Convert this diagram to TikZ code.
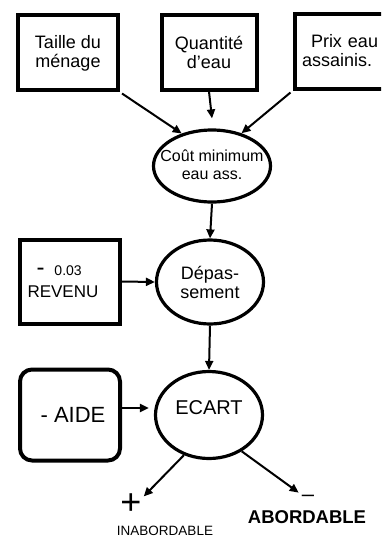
\documentclass[tikz,border=0pt]{standalone}
\usepackage{fontspec}
\setmainfont{Liberation Sans}
\usetikzlibrary{arrows.meta,shapes.geometric}
\begin{document}
\begin{tikzpicture}[x=1pt,y=-1pt,
  every node/.style={font=\fontsize{18}{19}\selectfont, inner sep=0pt},
  boxnode/.style={draw, line width=4pt, rectangle, align=center},
  ellnode/.style={draw, line width=3.2pt, ellipse},
  txt/.style={align=center, font=\fontsize{18}{19}\selectfont},
  arr/.style={line width=2pt, -{Triangle[length=9pt,width=8pt]}}]
\clip (0,0) rectangle (381,539);
% top boxes
\node[boxnode, minimum width=100, minimum height=75] (taille) at (68,52) {\rule{0pt}{15pt}Taille du\\ménage};
\node[boxnode, minimum width=95, minimum height=75] (quant) at (209,52) {\rule{0pt}{15pt}Quantité\\d’eau};
\node[boxnode, minimum width=101, minimum height=75, text width=86, align=left] (prix) at (345,51) {\rule{0pt}{12pt}\hspace*{9pt}Prix eau\\assainis.};
% ellipse 1
\node[ellnode, minimum width=117, minimum height=72,
  label={[txt, font=\fontsize{16}{18}\selectfont, yshift=1pt]center:Coût minimum\\eau ass.}] (cout) at (212,166) {};
% row 2
\node[boxnode, minimum width=100, minimum height=84, text width=84, align=left] (rev) at (69.5,281.5) {\hspace*{9pt}{\fontsize{24}{20}\selectfont -}\hspace{10pt}{\fontsize{14}{15}\selectfont 0.03}\\[3pt]{\fontsize{17}{19}\selectfont REVENU}\\[8pt]};
\node[ellnode, minimum width=107, minimum height=84,
  label={[txt]center:Dépas-\\sement}] (dep) at (210,282) {};
% row 3
\node[draw, line width=4pt, rectangle, rounded corners=12pt, minimum width=100, minimum height=91, font=\fontsize{22}{24}\selectfont] (aide) at (70,415) {\hspace*{6pt}- AIDE};
\node[ellnode, minimum width=107, minimum height=87,
  label={[txt, font=\fontsize{20}{22}\selectfont, yshift=7pt]center:ECART}] (ecart) at (209,415) {};
% outcomes
\node[font=\fontsize{36}{36}\selectfont] (plus) at (131,504) {+};
\node[font=\fontsize{13.5}{16}\selectfont] (inab) at (165,531) {INABORDABLE};
\node[font=\fontsize{22}{22}\selectfont] (minus) at (308,498) {\textendash};
\node[font=\bfseries\fontsize{18.5}{19}\selectfont] (abord) at (307,517) {ABORDABLE};
% connectors
\draw[arr] (taille.south east) ++(2,2) -- (cout.133);
\draw[arr] (quant.south) -- ([yshift=10pt]cout.north);
\draw[arr] (prix.south west) ++(-2,2) -- (cout.48);
\draw[arr] (cout.south) -- (dep.north);
\draw[arr] (rev.east) -- (dep.west);
\draw[arr] (dep.south) -- (ecart.north);
\draw[arr] ([yshift=7pt]aide.east) -- ([yshift=7pt,xshift=-5pt]ecart.west);
\draw[arr] (ecart.238) -- ([xshift=2pt,yshift=-3pt]plus.north east);
\draw[arr] (ecart.312) -- ([xshift=-3pt,yshift=2pt]minus.north west);
\end{tikzpicture}
\end{document}
